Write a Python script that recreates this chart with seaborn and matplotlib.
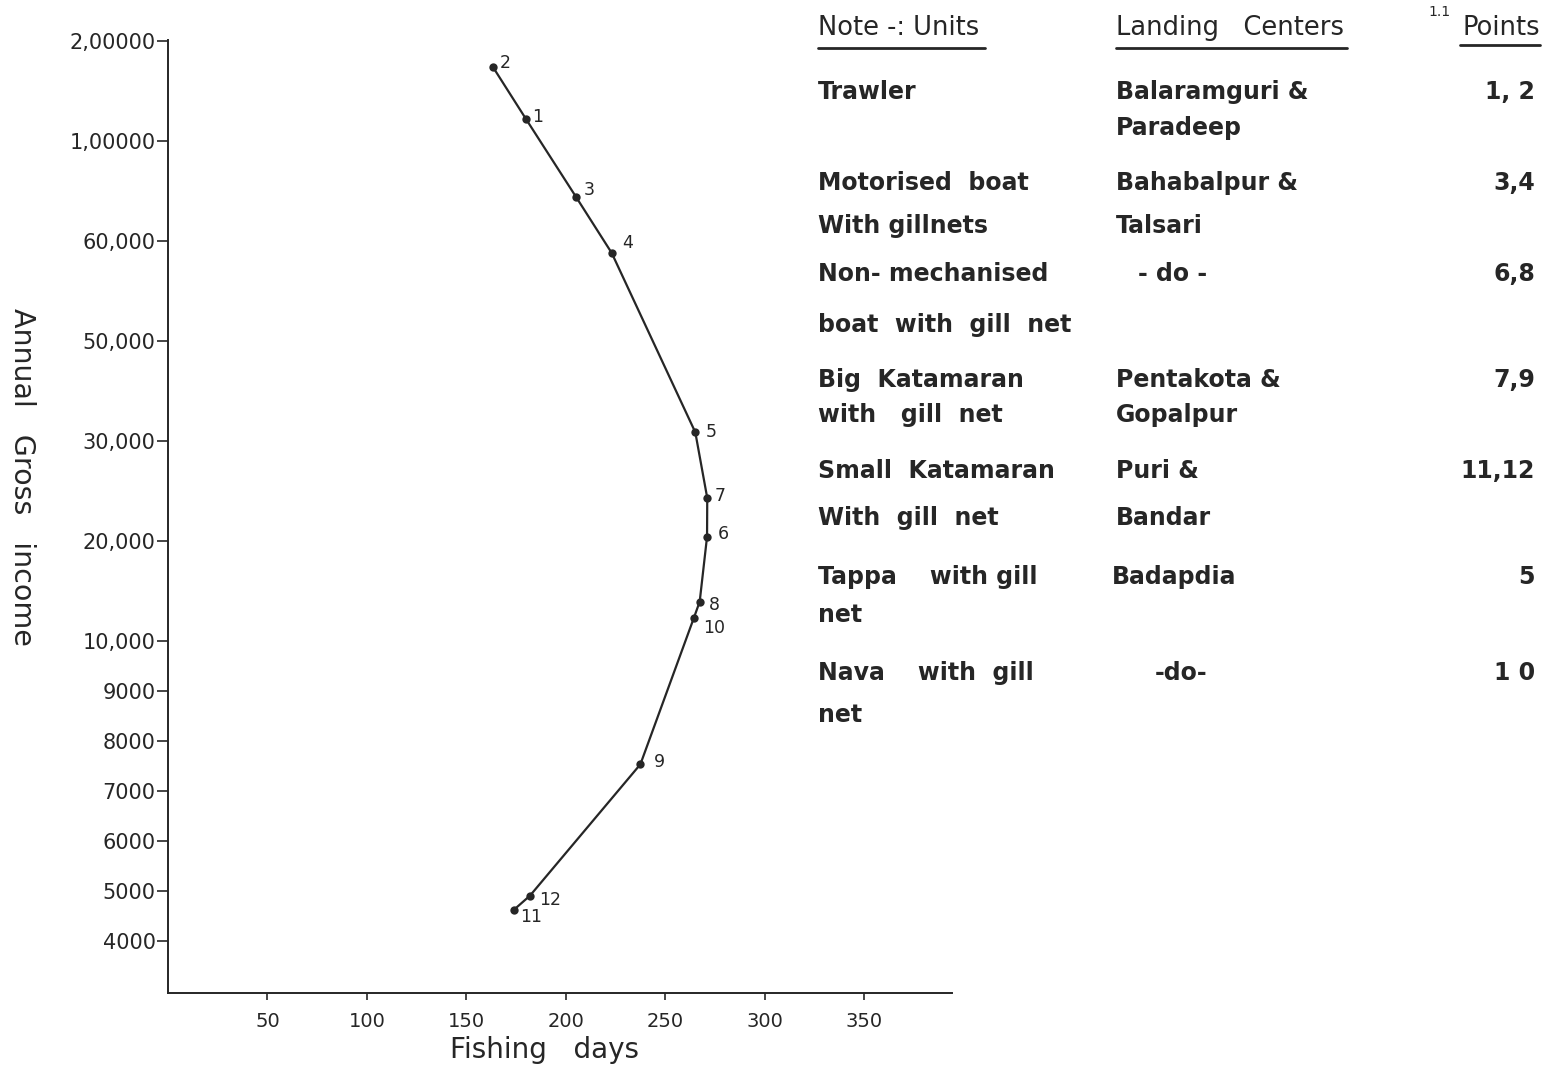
import numpy as np
import pandas as pd
import seaborn as sns
import matplotlib.pyplot as plt
from matplotlib.lines import Line2D
from matplotlib.ticker import NullLocator

sns.set_theme(style="ticks")
plt.rcParams['font.family'] = ['DejaVu Sans']

INK = '#262626'
W, H = 1561, 1067

# values, points 1..12
point_ids = list(range(1, 13))
fishing_days = [179.9, 163.2, 205.0, 223.0, 265.0, 270.9, 271.0, 267.2, 237.4, 264.2, 173.7, 181.9]
gross_income = [122000, 174300, 77700, 58800, 31740, 20430, 24300, 13930, 7534, 12270, 4620, 4906]

income_ticks = [4000, 5000, 6000, 7000, 8000, 9000, 10000, 20000, 30000, 50000, 60000, 100000, 200000]
income_tick_labels = ['4000', '5000', '6000', '7000', '8000', '9000', '10,000',
                      '20,000', '30,000', '50,000', '60,000', '1,00000', '2,00000']
day_ticks = [50, 100, 150, 200, 250, 300, 350]

unit_rows = [["Trawler"],
             ["Motorised  boat", "With gillnets"],
             ["Non- mechanised", "boat  with  gill  net"],
             ["Big  Katamaran", "with   gill  net"],
             ["Small  Katamaran", "With  gill  net"],
             ["Tappa    with gill", "net"],
             ["Nava    with  gill", "net"]]
center_rows = [["Balaramguri &", "Paradeep"],
               ["Bahabalpur &", "Talsari"],
               ["- do -"],
               ["Pentakota &", "Gopalpur"],
               ["Puri &", "Bandar"],
               ["Badapdia"],
               ["-do-"]]
point_rows = ["1, 2", "3,4", "6,8", "7,9", "11,12", "5", "1 0"]

# hand-drawn axis: uneven spacing between the ticks
_scale_vals = np.array([0] + income_ticks + [300000], dtype=float)
_scale_pos = np.array([-2, 0, .5, 1, 1.5, 2, 2.5, 3, 4, 5, 6, 7, 8, 9, 10], dtype=float)


def _fwd(v):
    return np.interp(v, _scale_vals, _scale_pos)


def _inv(p):
    return np.interp(p, _scale_pos, _scale_vals)


df = pd.DataFrame({'point': point_ids, 'days': fishing_days, 'income': gross_income})
df = df.sort_values('income', ascending=False)

fig = plt.figure(figsize=(W / 100, H / 100), dpi=100)
ax = fig.add_axes([168 / W, 1 - 993 / H, (952 - 168) / W, (993 - 40) / H])

sns.lineplot(data=df, x='days', y='income', sort=False, estimator=None,
             marker='o', markersize=6, markeredgewidth=0, color=INK, lw=1.6, ax=ax)

ax.set_yscale('function', functions=(_fwd, _inv))
ax.set_ylim(2960, 201000)
ax.set_xlim(0, 394)
ax.set_yticks(income_ticks, income_tick_labels)
ax.set_xticks(day_ticks)
ax.yaxis.set_minor_locator(NullLocator())
ax.xaxis.set_minor_locator(NullLocator())
ax.tick_params(axis='y', direction='out', length=8, width=1.2, pad=1, labelsize=15,
               colors=INK, left=True)
ax.tick_params(axis='x', direction='out', length=5, width=1.2, pad=9, labelsize=14,
               colors=INK, bottom=True)
for side in ['top', 'right']:
    ax.spines[side].set_visible(False)
for side in ['left', 'bottom']:
    ax.spines[side].set_color(INK)
    ax.spines[side].set_linewidth(1.4)
ax.set_xlabel('')
ax.set_ylabel('')

# point numbers, offsets in pixels (right, down)
label_offsets = {1: (12, -2), 2: (13, -4), 3: (13, -7), 4: (16, -10), 5: (16, 0),
                 6: (16, -3), 7: (13, -2), 8: (15, 3), 9: (19, -2), 10: (20, 10),
                 11: (17, 7), 12: (20, 4)}
for pid, d, inc in zip(point_ids, fishing_days, gross_income):
    dx, dy = label_offsets[pid]
    ax.annotate(str(pid), (d, inc), xytext=(dx, -dy), textcoords='offset pixels',
                ha='center', va='center', fontsize=12.5, color=INK)

fig.text(545 / W, 1 - 1050 / H, 'Fishing   days', ha='center', va='center',
         fontsize=20, color=INK)
fig.text(22 / W, 1 - 477 / H, 'Annual   Gross   income', rotation=270,
         ha='center', va='center', fontsize=20.5, color=INK)


def put(x, y, s, **kw):
    fig.text(x / W, 1 - y / H, s, va='center', color=INK, **kw)


# note table
put(818, 28, 'Note -: Units', fontsize=18.5)
put(1116, 28, 'Landing   Centers', fontsize=18.5)
put(1540, 28, 'Points', fontsize=18.5, ha='right')
put(1440, 12, '1.1', fontsize=10, ha='center')
for x0, x1, y in [(818, 985, 48), (1116, 1347, 48), (1460, 1540, 45)]:
    fig.add_artist(Line2D([x0 / W, x1 / W], [1 - y / H] * 2, color=INK, lw=2))

row_y = [92, 183, 274, 380, 471, 577, 673]
unit_gap = [36, 43, 51, 35, 47, 38, 42]
center_x = [1116, 1116, 1138, 1116, 1116, 1112, 1155]
for i, y in enumerate(row_y):
    for k, line in enumerate(unit_rows[i]):
        put(818, y + k * unit_gap[i], line, fontsize=17, fontweight='bold')
    for k, line in enumerate(center_rows[i]):
        put(center_x[i], y + k * unit_gap[i], line, fontsize=17, fontweight='bold')
    put(1535, y, point_rows[i], fontsize=17, fontweight='bold', ha='right')

fig.savefig('out.png', dpi=100)
